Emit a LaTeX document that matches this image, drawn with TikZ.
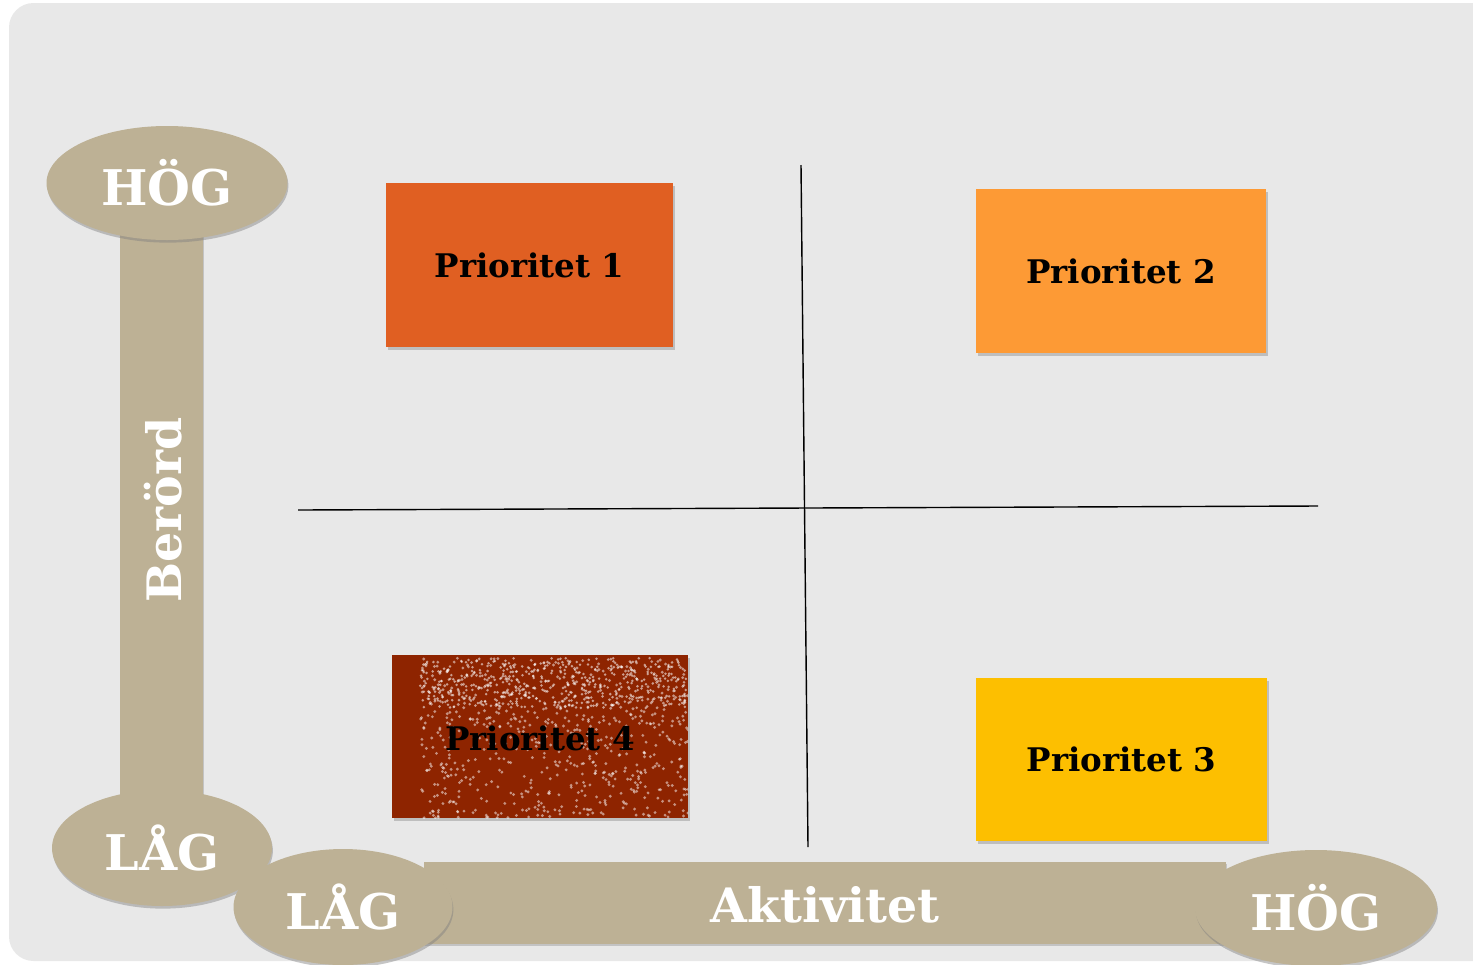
\documentclass[tikz,border=0pt]{standalone}
\usepackage{fontspec}
\setmainfont{DejaVu Serif}
\usetikzlibrary{shadows,shapes.geometric}
\definecolor{bgc}{HTML}{E8E8E8}
\definecolor{tan}{HTML}{BDB195}
\definecolor{pone}{HTML}{E05F22}
\definecolor{ptwo}{HTML}{FD9A35}
\definecolor{pthree}{HTML}{FDBF00}
\definecolor{pfour}{HTML}{8E2400}
\tikzset{
  axisbar/.style={fill=tan, draw=none, drop shadow={shadow xshift=0.5pt,shadow yshift=-1pt,opacity=0.35}},
  axisoval/.style={ellipse, fill=tan, draw=none, font=\bfseries\fontsize{28}{28}\selectfont, text=white,
     drop shadow={shadow xshift=0.5pt,shadow yshift=-1.5pt,opacity=0.45}},
  prio/.style={rectangle, draw=none, font=\bfseries\fontsize{18.5}{18.5}\selectfont, text=black,
     drop shadow={shadow xshift=1pt,shadow yshift=-1.5pt,opacity=0.4}},
  axislabel/.style={font=\bfseries\fontsize{27}{27}\selectfont, text=white},
  divider/.style={draw=black, line width=0.8pt}
}
\begin{document}
\begin{tikzpicture}[x=0.02cm,y=-0.02cm]
\useasboundingbox (0,0) rectangle (1473,964);
\fill[white] (0,0) rectangle (1473,964);
\fill[bgc, rounded corners=14pt] (9,3) rectangle (1500,961);
% dividers
\coordinate (vt) at (801,165);
\coordinate (vb) at (808,847);
\coordinate (hl) at (298,510);
\coordinate (hr) at (1318,506);
\draw[divider] (vt) -- (vb);
\draw[divider] (hl) -- (hr);
% vertical axis
\node[axisbar, minimum width=83*0.02cm, minimum height=570*0.02cm, inner sep=0pt] (vbar) at (161.5,515) {};
\node[axislabel, rotate=90] (berord) at (163,510) {Berörd};
% horizontal axis
\node[axisbar, minimum width=802*0.02cm, minimum height=82*0.02cm, inner sep=0pt] (hbar) at (825,903) {};
\node[axislabel] (aktiv) at (825,905) {Aktivitet};
% ovals
\node[axisoval, minimum width=241*0.02cm, minimum height=114*0.02cm, inner sep=0pt] (vhog) at (167,183) {HÖG};
\node[axisoval, minimum width=220*0.02cm, minimum height=116*0.02cm, inner sep=0pt] (vlag) at (162,848) {LÅG};
\node[axisoval, minimum width=219*0.02cm, minimum height=116*0.02cm, inner sep=0pt] (hlag) at (343,907) {LÅG};
\node[axisoval, minimum width=242*0.02cm, minimum height=116*0.02cm, inner sep=0pt] (hhog) at (1316,908) {HÖG};
% priority boxes
\node[prio, fill=pone, minimum width=287*0.02cm, minimum height=164*0.02cm] (p1) at (529.5,265) {Prioritet 1};
\node[prio, fill=ptwo, minimum width=290*0.02cm, minimum height=164*0.02cm] (p2) at (1121,271) {Prioritet 2};
\node[prio, fill=pthree, minimum width=291*0.02cm, minimum height=163*0.02cm] (p3) at (1121.5,759.5) {Prioritet 3};
\node[prio, fill=pfour, minimum width=296*0.02cm, minimum height=163*0.02cm] (p4) at (540,736.5) {};
\begin{scope}
\clip (392,655) rectangle (688,818);
\pgfmathsetseed{42}
\foreach \i in {1,...,700}{
  \pgfmathsetmacro{\px}{420+rnd*268}
  \pgfmathsetmacro{\py}{658+rnd*160}
  \fill[white, opacity=0.5] (\px,\py) circle (0.9pt);
}
\foreach \i in {1,...,500}{
  \pgfmathsetmacro{\px}{420+rnd*268}
  \pgfmathsetmacro{\py}{658+rnd*50}
  \fill[white, opacity=0.55] (\px,\py) circle (0.8pt);
}
\end{scope}
\node[font=\bfseries\fontsize{18.5}{18.5}\selectfont, text=black] (p4t) at (540,738) {Prioritet 4};
\end{tikzpicture}
\end{document}
